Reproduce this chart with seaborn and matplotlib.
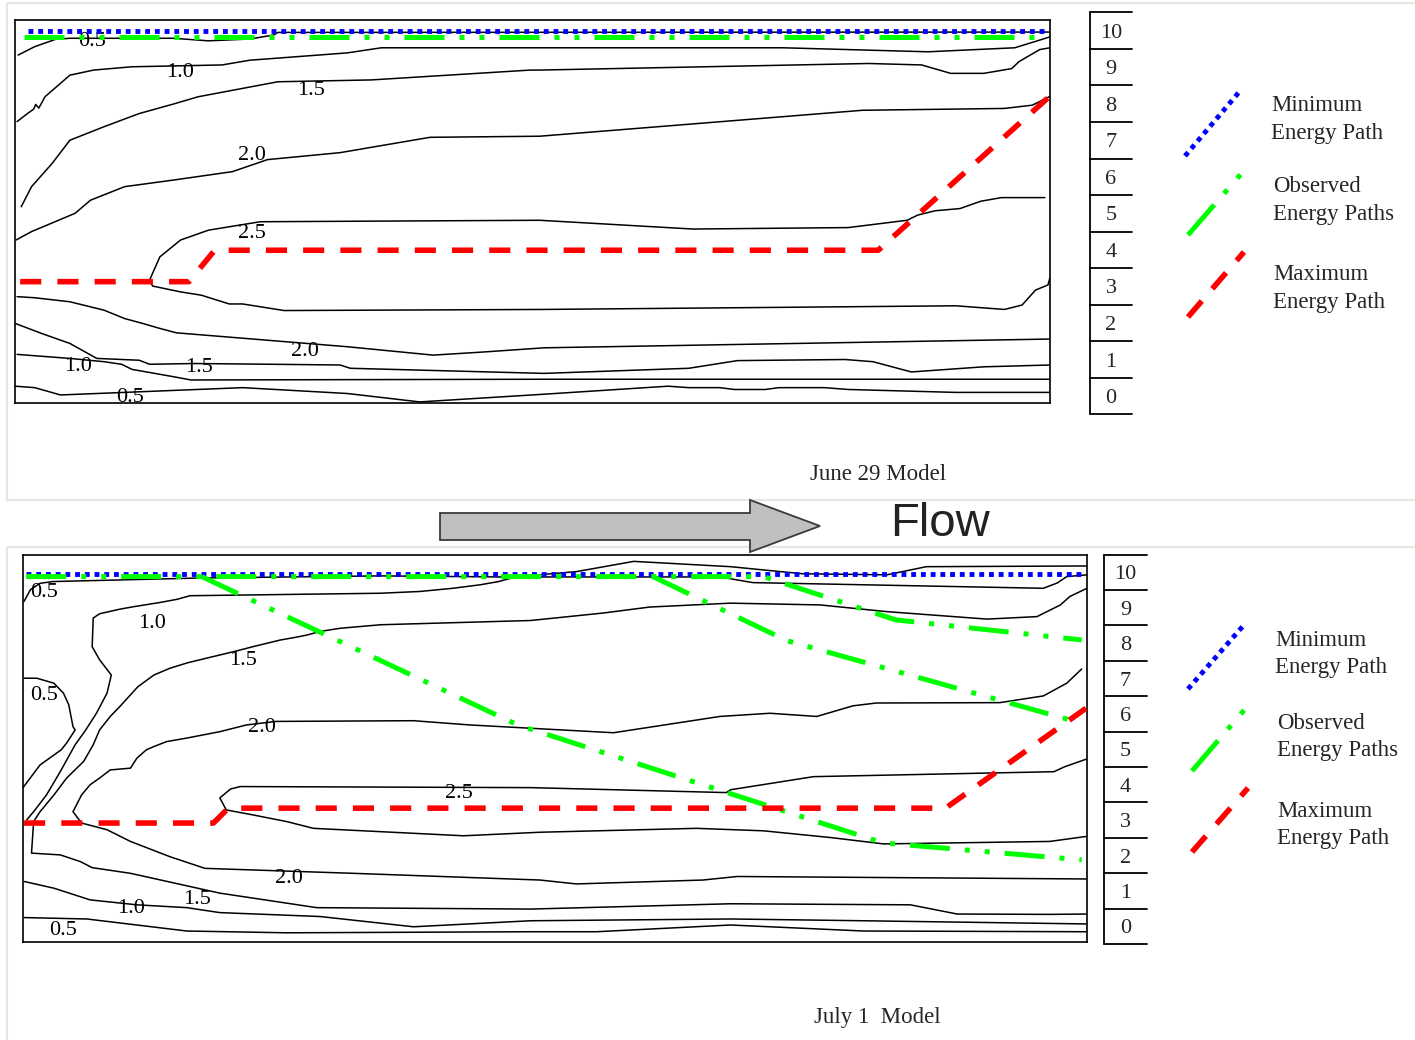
import pandas as pd
import matplotlib
matplotlib.use("Agg")
import matplotlib.pyplot as plt
import seaborn as sns
from matplotlib.patches import Polygon, Rectangle

# ---------- Data: (distance along section in %, level on the 0-10 scale) ----------

# June 29 model
june_05_top = [(0.3, 9.33), (1.9, 9.56), (3.9, 9.76), (5.3, 9.79), (15.3, 9.79), (18.7, 9.72),
               (22.7, 9.77), (25.0, 9.88), (25.4, 9.95), (100.0, 9.96)]
june_10_top = [(0.2, 7.51), (1.2, 7.73), (1.8, 7.85), (2.0, 7.98), (2.3, 7.88), (2.9, 8.19),
               (5.3, 8.78), (7.6, 8.92), (11.3, 9.01), (20.0, 9.06), (22.7, 9.19), (32.1, 9.39),
               (35.4, 9.53), (51.1, 9.53), (74.2, 9.53), (88.2, 9.42), (96.6, 9.53), (99.0, 9.74),
               (100.0, 9.83)]
june_15_top = [(0.6, 5.18), (1.6, 5.73), (3.6, 6.37), (5.3, 7.0), (8.6, 7.37), (12.0, 7.73),
               (15.3, 7.99), (17.7, 8.19), (25.4, 8.6), (34.4, 8.65), (49.8, 8.92), (50.7, 8.92),
               (82.5, 9.1), (87.6, 9.06), (90.4, 8.83), (93.6, 8.83), (96.3, 8.96), (97.0, 9.15),
               (99.0, 9.48), (100.0, 9.53)]
june_20_top = [(0.1, 4.27), (1.6, 4.5), (5.8, 5.0), (7.3, 5.36), (10.6, 5.73), (15.3, 5.91),
               (21.0, 6.14), (24.4, 6.47), (31.4, 6.66), (40.1, 7.08), (50.7, 7.11), (81.9, 7.82),
               (95.6, 7.87), (98.3, 7.96), (100.0, 8.2)]
june_25 = [(99.5, 5.43), (95.3, 5.43), (93.3, 5.33), (91.3, 5.13), (88.9, 5.07), (87.2, 4.95),
           (86.2, 4.81), (80.5, 4.61), (65.5, 4.57), (50.7, 4.81), (23.7, 4.77), (18.7, 4.54),
           (16.0, 4.27), (14.0, 3.81), (13.0, 3.17), (13.3, 3.01), (16.0, 2.85), (18.0, 2.76),
           (20.7, 2.52), (22.0, 2.52), (26.0, 2.34), (51.1, 2.37), (90.9, 2.47), (95.6, 2.37),
           (97.3, 2.49), (98.6, 2.9), (99.8, 3.04), (100.0, 3.24)]
june_20_bot = [(0.2, 2.72), (1.9, 2.69), (5.3, 2.58), (8.6, 2.35), (10.6, 2.12), (12.3, 1.99),
               (14.0, 1.85), (15.6, 1.73), (32.1, 1.35), (40.4, 1.12), (45.5, 1.21), (51.1, 1.32),
               (100.0, 1.56)]
june_15_bot = [(0.0, 1.99), (2.6, 1.71), (5.3, 1.44), (7.9, 1.03), (12.0, 0.98), (13.0, 0.87),
               (17.3, 0.89), (24.7, 0.87), (31.4, 0.85), (32.4, 0.76), (51.1, 0.62), (65.1, 0.76),
               (69.8, 0.97), (80.2, 1.0), (82.9, 0.94), (86.6, 0.66), (93.6, 0.8), (100.0, 0.85)]
june_10_bot = [(0.2, 1.14), (5.3, 1.03), (8.6, 0.94), (10.3, 0.87), (11.3, 0.73), (15.3, 0.53),
               (17.0, 0.44), (51.1, 0.46), (100.0, 0.46)]
june_05_bot = [(0.0, 0.27), (1.9, 0.23), (4.4, 0.03), (22.0, 0.23), (32.1, 0.07), (39.1, -0.16),
               (51.1, 0.05), (63.1, 0.27), (65.1, 0.23), (68.1, 0.23), (69.5, 0.18), (72.5, 0.18),
               (73.8, 0.23), (78.2, 0.23), (80.5, 0.18), (90.9, 0.1), (100.0, 0.1)]
june_labels = [("0.5", 7.4, 9.77), ("1.0", 15.9, 8.92), ("1.5", 28.6, 8.43), ("2.0", 22.9, 6.65),
               ("2.5", 22.9, 4.51), ("2.0", 28.0, 1.29), ("1.0", 6.1, 0.88), ("1.5", 17.8, 0.85),
               ("0.5", 11.1, 0.03)]
june_min_path = [(1.3, 10.0), (99.7, 10.0)]
june_obs_paths = [[(0.9, 9.82), (99.8, 9.82)]]
june_max_path = [(0.5, 3.13), (16.8, 3.13), (19.3, 3.99), (83.4, 3.99), (99.8, 8.16)]

# July 1 model
july_05_top = [(0.1, 9.18), (0.7, 9.51), (1.6, 9.69), (2.8, 9.74), (16.6, 9.84), (33.6, 9.9),
               (44.8, 9.87), (65.5, 9.87), (68.6, 9.71), (95.9, 9.55), (97.2, 9.7), (98.1, 9.88),
               (100.0, 9.93)]
july_05_lobe = [(0.1, 7.01), (1.3, 7.01), (2.9, 6.87), (3.8, 6.59), (4.3, 6.26), (4.7, 5.64),
                (4.9, 5.55), (4.1, 5.18), (3.6, 4.99), (1.6, 4.56), (0.0, 3.92)]
july_10_top = [(0.35, 3.01), (1.0, 3.24), (2.2, 3.71), (3.5, 4.37), (4.9, 5.13), (5.9, 5.55),
               (6.9, 6.02), (7.9, 6.59), (8.3, 7.1), (7.2, 7.53), (6.5, 7.9), (6.6, 8.71),
               (7.2, 8.83), (9.1, 8.96), (10.4, 9.03), (12.9, 9.15), (14.5, 9.24), (15.7, 9.34),
               (33.6, 9.41), (37.3, 9.46), (40.4, 9.55), (43.0, 9.65), (44.7, 9.74), (46.4, 9.88),
               (52.0, 10.02), (57.4, 10.31), (66.5, 10.16), (70.2, 10.05), (73.3, 9.96),
               (81.2, 9.93), (84.9, 10.16), (100.0, 10.18)]
july_15 = [(99.9, 0.35), (96.5, 0.34), (87.8, 0.35), (83.4, 0.61), (66.5, 0.64), (47.7, 0.49),
           (27.6, 0.53), (18.5, 0.94), (10.1, 1.5), (6.5, 1.66), (5.4, 1.83), (3.5, 2.02),
           (0.8, 2.07), (1.0, 2.96), (1.6, 3.24), (2.9, 3.71), (4.1, 4.19), (5.7, 4.66),
           (6.6, 5.13), (7.2, 5.55), (8.2, 5.93), (9.1, 6.21), (10.1, 6.54), (10.8, 6.77),
           (12.3, 7.1), (13.8, 7.29), (15.4, 7.44), (17.3, 7.58), (19.8, 7.76), (21.6, 7.9),
           (24.2, 8.09), (25.7, 8.17), (26.7, 8.23), (27.9, 8.33), (29.8, 8.42), (33.6, 8.52),
           (47.7, 8.64), (54.5, 8.85), (58.9, 9.02), (66.5, 9.13), (74.9, 9.08), (81.2, 8.89),
           (90.6, 8.68), (95.3, 8.75), (97.5, 9.08), (98.4, 9.32), (100.0, 9.55)]
july_20 = [(99.5, 7.27), (98.1, 6.87), (95.9, 6.51), (91.8, 6.32), (80.2, 6.31), (78.0, 6.23),
           (74.6, 5.93), (70.2, 6.02), (65.5, 5.93), (55.5, 5.47), (42.0, 5.69), (36.7, 5.81),
           (23.8, 5.79), (21.0, 5.69), (18.5, 5.5), (15.4, 5.32), (13.5, 5.22), (12.3, 5.08),
           (11.6, 4.99), (10.7, 4.75), (10.1, 4.47), (8.2, 4.42), (7.2, 4.19), (6.3, 4.0),
           (5.5, 3.71), (4.7, 3.24), (5.5, 2.92), (7.9, 2.73), (10.1, 2.4), (13.8, 1.97),
           (17.1, 1.64), (31.0, 1.5), (48.6, 1.31), (52.0, 1.2), (63.9, 1.31), (67.1, 1.41),
           (99.9, 1.34)]
july_25 = [(99.9, 4.72), (97.9, 4.51), (96.9, 4.37), (74.3, 4.23), (66.5, 3.86), (66.1, 3.78),
           (47.7, 3.92), (20.4, 3.95), (19.5, 3.88), (18.5, 3.63), (19.1, 3.29), (21.6, 3.15),
           (24.8, 2.96), (27.3, 2.77), (41.4, 2.56), (48.6, 2.66), (63.3, 2.77), (69.6, 2.7),
           (75.9, 2.51), (80.9, 2.33), (96.5, 2.4), (99.9, 2.54)]
july_10_bot = [(0.1, 1.27), (2.9, 1.08), (6.3, 0.75), (10.7, 0.61), (15.4, 0.53), (18.5, 0.39),
               (27.9, 0.28), (36.7, -0.01), (47.7, 0.16), (66.5, 0.21), (79.0, 0.16), (99.9, 0.07)]
july_05_bot = [(0.1, 0.25), (6.0, 0.21), (10.7, 0.04), (15.4, -0.13), (24.8, -0.18), (47.7, -0.15),
               (53.9, -0.15), (66.5, 0.04), (79.0, -0.13), (99.9, -0.15)]
july_labels = [("0.5", 2.0, 9.51), ("1.0", 12.1, 8.63), ("1.5", 20.7, 7.58), ("0.5", 2.0, 6.6),
               ("2.0", 22.5, 5.69), ("2.5", 41.0, 3.83), ("2.0", 25.0, 1.43), ("1.5", 16.4, 0.83),
               ("1.0", 10.2, 0.58), ("0.5", 3.8, -0.04)]
july_min_path = [(0.3, 9.96), (99.5, 9.96)]
july_obs_paths = [[(0.3, 9.88), (69.6, 9.88), (82.0, 8.66), (99.5, 8.09)],
                  [(59.2, 9.88), (71.8, 8.07), (99.5, 5.74)],
                  [(16.8, 9.88), (46.5, 5.69), (80.8, 2.36), (99.5, 1.88)]]
july_max_path = [(0.1, 2.92), (17.9, 2.92), (19.3, 3.34), (86.7, 3.34), (99.9, 6.16)]

SCALE_LABELS = list(range(0, 11))
LEGEND_LABELS = ["Minimum\nEnergy Path", "Observed\nEnergy Paths", "Maximum\nEnergy Path"]
PANEL_TITLES = ["June 29 Model", "July 1  Model"]

# ---------- Styles ----------
MIN_STYLE = dict(color="#0000ff", lw=3.5, dashes=(1, 1))
OBS_STYLE = dict(color="#00ff00", lw=3.6, dashes=(8, 3, 1, 3, 1, 3))
MAX_STYLE = dict(color="#ff0000", lw=4.0, dashes=(3.8, 2.9))
PATH_STYLES = [MIN_STYLE, OBS_STYLE, MAX_STYLE]

W, H = 1415, 1040
sns.set_theme(style="white")
plt.rcParams["font.family"] = ["Liberation Serif", "DejaVu Serif"]


def px_axes(fig, x0, y0, x1, y1):
    return fig.add_axes([x0 / W, 1 - y1 / H, (x1 - x0) / W, (y1 - y0) / H])


def contour_frame(contours):
    rows = []
    for name, pts in contours.items():
        for i, (x, v) in enumerate(pts):
            rows.append((name, i, x, v))
    return pd.DataFrame(rows, columns=["contour", "order", "distance", "level"])


def draw_panel(ax, contours, labels, min_path, obs_paths, max_path, ylim):
    df = contour_frame(contours)
    sns.lineplot(data=df, x="distance", y="level", units="contour", estimator=None,
                 sort=False, color="black", lw=1.1, ax=ax, legend=False)
    for text, x, v in labels:
        ax.text(x, v, text, ha="center", va="center_baseline", fontsize=16, color="black")
    ax.plot(*zip(*min_path), zorder=4, **MIN_STYLE)
    for p in obs_paths:
        ax.plot(*zip(*p), zorder=5, **OBS_STYLE)
    ax.plot(*zip(*max_path), zorder=6, **MAX_STYLE)
    ax.set_xlim(0, 100)
    ax.set_ylim(*ylim)
    ax.set_xticks([])
    ax.set_yticks([])
    ax.set_xlabel("")
    ax.set_ylabel("")
    ax.set_facecolor("none")
    for s in ax.spines.values():
        s.set_visible(True)
        s.set_color("black")
        s.set_linewidth(1.2)


def draw_scale(ax, ylim):
    ax.set_xlim(0, 1)
    ax.set_ylim(*ylim)
    ax.axis("off")
    bounds = [k - 0.5 for k in SCALE_LABELS] + [SCALE_LABELS[-1] + 0.5]
    ax.plot([0, 0], [bounds[0], bounds[-1]], color="black", lw=1.3, clip_on=False)
    for b in bounds:
        ax.plot([0, 1], [b, b], color="black", lw=1.3, clip_on=False)
    for k in SCALE_LABELS:
        ax.text(0.5, k, str(k), ha="center", va="center_baseline", fontsize=16)


def draw_legend(ov, glyphs, text_x, text_y):
    for (x0, y0, x1, y1), style in zip(glyphs, PATH_STYLES):
        ov.plot([x0, x1], [y0, y1], **style)
    for label, tx, ty in zip(LEGEND_LABELS, text_x, text_y):
        ov.text(tx, ty, label, ha="left", va="center", fontsize=16.5, linespacing=1.42)


fig = plt.figure(figsize=(W / 100, H / 100), dpi=100)
fig.patch.set_facecolor("white")

# overlay in pixel units for frames, arrow and legend keys
ov = fig.add_axes([0, 0, 1, 1])
ov.set_xlim(0, W)
ov.set_ylim(H, 0)
ov.axis("off")
ov.add_patch(Rectangle((7, 3), 1420, 497, fill=False, edgecolor="#e6e6de", lw=1.5))
ov.add_patch(Rectangle((7, 547), 1420, 500, fill=False, edgecolor="#e6e6de", lw=1.5))
ov.add_patch(Polygon([(440, 513), (750, 513), (750, 500), (820, 526), (750, 552), (750, 540), (440, 540)],
                     closed=True, facecolor="#c0c0c0", edgecolor="#3a3a3a", lw=1.3))
ov.text(940, 524, "Flow", ha="center", va="center", fontsize=34, color="#222222",
        family=["Liberation Sans", "DejaVu Sans"])
ov.text(878, 475, PANEL_TITLES[0], ha="center", va="center", fontsize=16.5)
ov.text(877, 1018, PANEL_TITLES[1], ha="center", va="center", fontsize=16.5)

draw_legend(ov, [(1185, 156, 1240, 91), (1188, 235, 1241, 174), (1188, 317, 1244, 252)],
            [1271, 1273, 1273], [119.5, 200.5, 288.5])
draw_legend(ov, [(1188, 689, 1243, 626), (1192, 771, 1246, 708), (1192, 852, 1248, 788)],
            [1275, 1277, 1277], [654, 737, 825])

# June 29 panel
ylim_top = (-0.19, 10.29)
ax1 = px_axes(fig, 15, 20, 1050, 403)
draw_panel(ax1,
           {"05t": june_05_top, "10t": june_10_top, "15t": june_15_top, "20t": june_20_top,
            "25": june_25, "20b": june_20_bot, "15b": june_15_bot, "10b": june_10_bot,
            "05b": june_05_bot},
           june_labels, june_min_path, june_obs_paths, june_max_path, ylim_top)
draw_scale(px_axes(fig, 1090, 20, 1132, 403), ylim_top)

# July 1 panel
ylim_bot = (-0.44, 10.49)
ax2 = px_axes(fig, 23, 555, 1087, 942)
draw_panel(ax2,
           {"05t": july_05_top, "05l": july_05_lobe, "10t": july_10_top, "15": july_15,
            "20": july_20, "25": july_25, "10b": july_10_bot, "05b": july_05_bot},
           july_labels, july_min_path, july_obs_paths, july_max_path, ylim_bot)
draw_scale(px_axes(fig, 1104, 555, 1147, 942), ylim_bot)

fig.savefig("out.png", dpi=100)
